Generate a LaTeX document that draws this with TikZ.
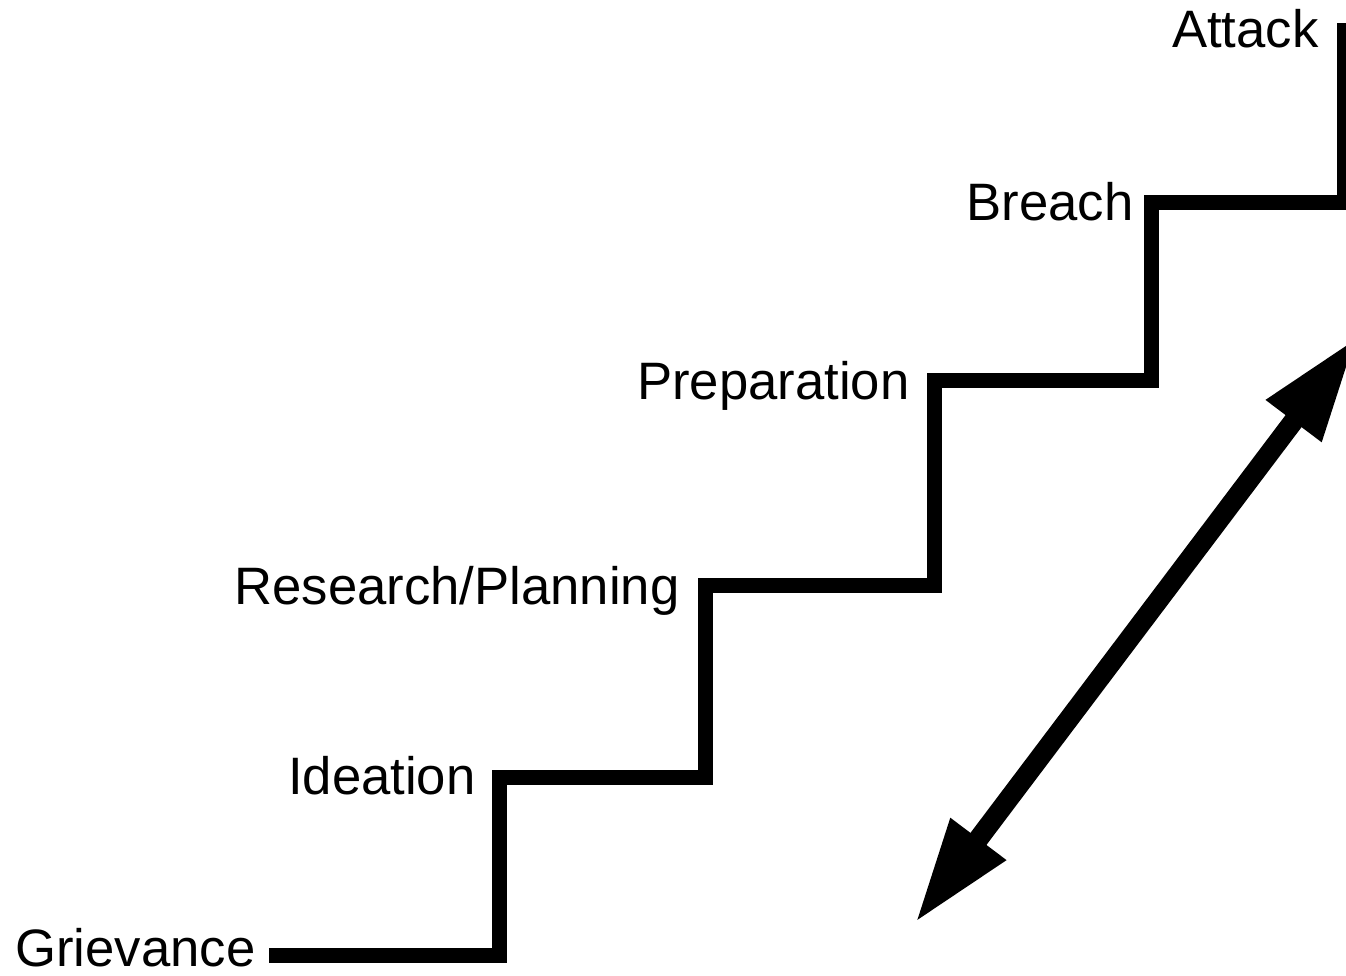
\documentclass[tikz,border=0pt]{standalone}
\usepackage{fontspec}
\setmainfont{Liberation Sans}
\usetikzlibrary{arrows.meta}

\tikzset{every picture/.style={line width=0.75pt}}
\tikzset{
  steplabel/.style={anchor=base east, inner sep=0pt, font=\fontsize{39.5}{47}\selectfont},
  stairline/.style={line width=11.25pt, line join=miter, line cap=butt},
  riskarrow/.style={line width=15pt, {Triangle[length=79pt,width=48pt]}-{Triangle[length=79pt,width=48pt]}}
}

\begin{document}
\begin{tikzpicture}[x=0.75pt,y=0.75pt,yscale=-1,xscale=1]
\useasboundingbox (0,0) rectangle (1346,975);

%Shape: Staircase
\coordinate (s0) at (269,955.5);
\coordinate (s1) at (499,955.5);
\coordinate (s2) at (499,777);
\coordinate (s3) at (705,777);
\coordinate (s4) at (705,585.5);
\coordinate (s5) at (934.5,585.5);
\coordinate (s6) at (934.5,380.5);
\coordinate (s7) at (1151.5,380.5);
\coordinate (s8) at (1151.5,202.5);
\coordinate (s9) at (1344,202.5);
\coordinate (s10) at (1344,23);
\draw [stairline] (s0) -- (s1) -- (s2) -- (s3) -- (s4) -- (s5) -- (s6) -- (s7) -- (s8) -- (s9) -- (s10);

%Text: step names
\node [steplabel] (grievance) at (256,966) {Grievance};
\node [steplabel] (ideation) at (476,794) {Ideation};
\node [steplabel] (research) at (680,604) {Research/Planning};
\node [steplabel] (preparation) at (910,399) {Preparation};
\node [steplabel] (breach) at (1134,220) {Breach};
\node [steplabel] (attack) at (1319,47) {Attack};

%Straight Lines: double arrow
\coordinate (arrlow) at (915,923);
\coordinate (arrhigh) at (1357,337);
\draw [riskarrow] (arrlow) -- (arrhigh);
\end{tikzpicture}
\end{document}
